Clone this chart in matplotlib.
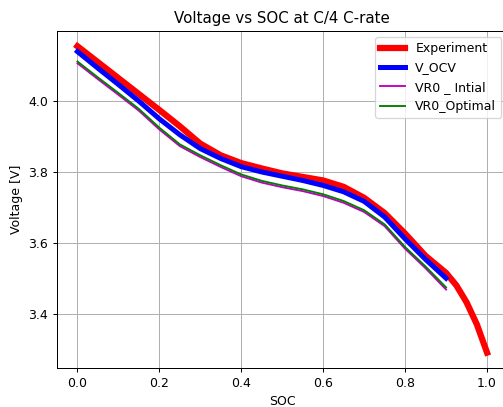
import numpy as np
import matplotlib
matplotlib.use("Agg")
import matplotlib.pyplot as plt

# SOC points and voltages
soc_exp = [0.0, 0.05, 0.10, 0.15, 0.20, 0.25, 0.30, 0.35, 0.40, 0.45, 0.50,
           0.55, 0.60, 0.65, 0.70, 0.75, 0.80, 0.85, 0.90, 0.925, 0.95, 0.975, 1.0]
v_exp = [4.155, 4.11, 4.065, 4.02, 3.975, 3.929, 3.88, 3.847, 3.825, 3.81, 3.796,
         3.786, 3.776, 3.758, 3.727, 3.684, 3.626, 3.563, 3.515, 3.48, 3.432, 3.37, 3.29]

soc = [0.0, 0.05, 0.10, 0.15, 0.20, 0.25, 0.30, 0.35, 0.40, 0.45,
       0.50, 0.55, 0.60, 0.65, 0.70, 0.75, 0.80, 0.85, 0.90]
v_ocv = [4.14, 4.093, 4.047, 4.0, 3.95, 3.905, 3.866, 3.838, 3.815, 3.80,
         3.788, 3.776, 3.762, 3.744, 3.717, 3.673, 3.611, 3.553, 3.5]
vr0_opt = [4.112, 4.067, 4.023, 3.978, 3.925, 3.878, 3.847, 3.819, 3.793, 3.775,
           3.762, 3.751, 3.737, 3.718, 3.692, 3.652, 3.588, 3.533, 3.474]
vr0_init = [4.107, 4.062, 4.018, 3.973, 3.92, 3.873, 3.842, 3.814, 3.788, 3.77,
            3.757, 3.746, 3.732, 3.713, 3.687, 3.647, 3.583, 3.528, 3.468]

# reference looks like a 90 dpi render
fig = plt.figure(figsize=(504 / 90, 407 / 90), dpi=90)
ax = fig.add_axes([0.113, 0.096, 0.894, 0.828])

ax.plot(soc_exp, v_exp, color='red', linewidth=5, label='Experiment')
ax.plot(soc, v_ocv, color='blue', linewidth=4, label='V_OCV')
ax.plot(soc, vr0_init, color='m', linewidth=1.5, label='VR0 _ Intial')
ax.plot(soc, vr0_opt, color='green', linewidth=1.5, label='VR0_Optimal')

ax.set_xlabel('SOC')
ax.set_ylabel('Voltage [V]')
ax.set_title('Voltage vs SOC at C/4 C-rate')
ax.grid(True)
ax.legend(loc='upper right')

fig.savefig('out.png', dpi=90)
